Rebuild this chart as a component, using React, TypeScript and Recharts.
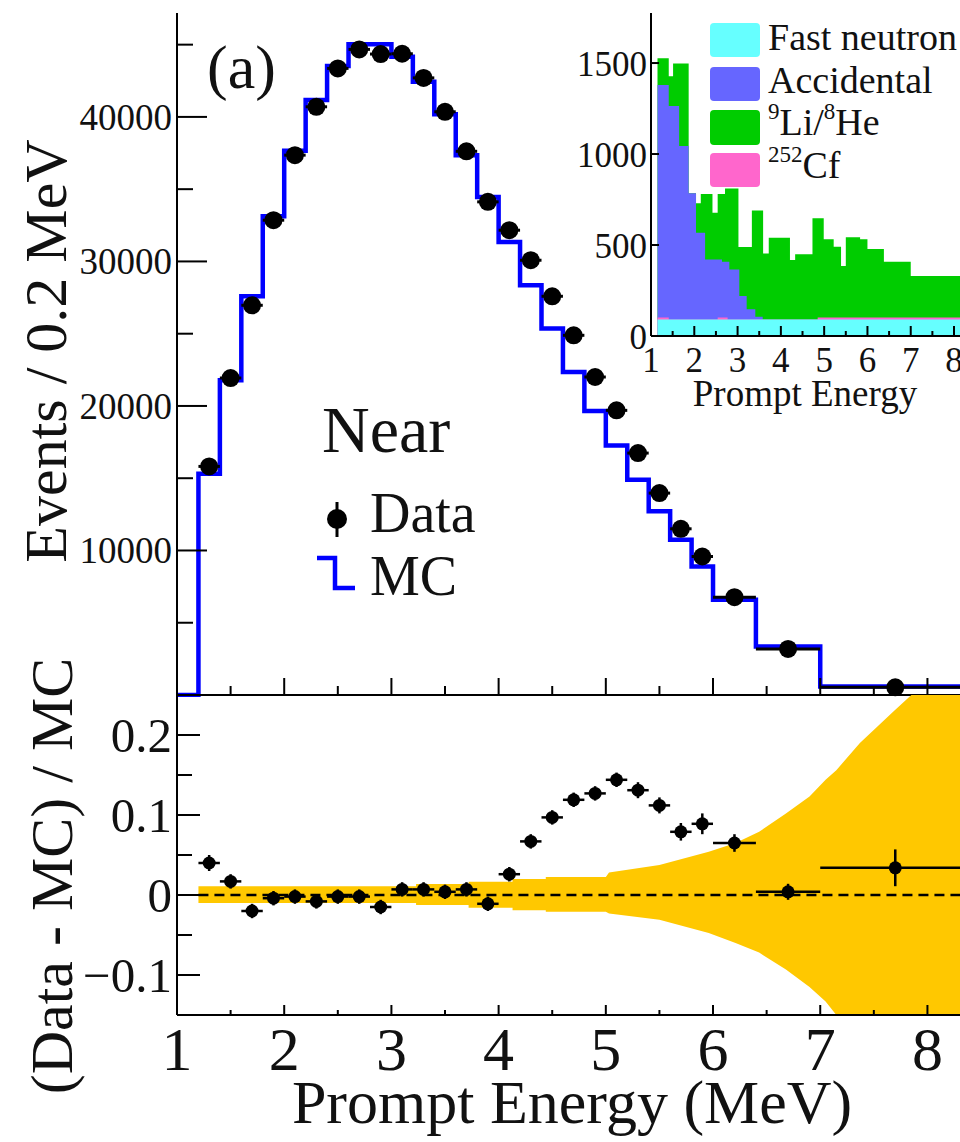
import React from 'react';
import { ComposedChart, Line, Scatter, Area, XAxis, YAxis, ErrorBar } from 'recharts';

const SERIF = '"Liberation Serif", "Times New Roman", Times, serif';

// ---------- Main panel: data points ----------
const binCenters = [1.3, 1.5, 1.7, 1.9, 2.1, 2.3, 2.5, 2.7, 2.9, 3.1, 3.3, 3.5, 3.7, 3.9, 4.1, 4.3, 4.5, 4.7, 4.9, 5.1, 5.3, 5.5, 5.7, 5.9, 6.2, 6.7, 7.7];
const binHalfLow = [0.1, 0.1, 0.1, 0.1, 0.1, 0.1, 0.1, 0.1, 0.1, 0.1, 0.1, 0.1, 0.1, 0.1, 0.1, 0.1, 0.1, 0.1, 0.1, 0.1, 0.1, 0.1, 0.1, 0.1, 0.2, 0.3, 0.7];
const binHalfHigh = [0.1, 0.1, 0.1, 0.1, 0.1, 0.1, 0.1, 0.1, 0.1, 0.1, 0.1, 0.1, 0.1, 0.1, 0.1, 0.1, 0.1, 0.1, 0.1, 0.1, 0.1, 0.1, 0.1, 0.1, 0.2, 0.3, 0.7];
const dataEvents = [15817, 21933, 26966, 32853, 37355, 40700, 43357, 44673, 44349, 44370, 42700, 40355, 37620, 34122, 32161, 30083, 27590, 24889, 22003, 19695, 16740, 13970, 11500, 9584, 6766, 3190, 533];

// ---------- Main panel: MC histogram (bin left edges) ----------
const mcEdges = [1.0, 1.2, 1.4, 1.6, 1.8, 2.0, 2.2, 2.4, 2.6, 2.8, 3.0, 3.2, 3.4, 3.6, 3.8, 4.0, 4.2, 4.4, 4.6, 4.8, 5.0, 5.2, 5.4, 5.6, 5.8, 6.0, 6.4, 7.0, 8.425];
const mcEvents = [0, 15312, 21773, 27590, 33130, 37654, 41163, 43518, 45020, 45020, 44163, 42430, 40180, 37355, 34467, 31350, 28352, 25353, 22350, 19650, 17270, 14895, 12720, 10740, 8892, 6586, 3352, 582, 582];

// ---------- Ratio panel ----------
const ratioValues = [0.040, 0.017, -0.020, -0.004, -0.002, -0.008, -0.002, -0.002, -0.015, 0.007, 0.007, 0.004, 0.007, -0.011, 0.026, 0.067, 0.097, 0.119, 0.127, 0.144, 0.131, 0.112, 0.079, 0.089, 0.065, 0.004, 0.034];
const ratioErrors = [0.010, 0.009, 0.009, 0.009, 0.009, 0.009, 0.009, 0.009, 0.009, 0.009, 0.009, 0.009, 0.009, 0.009, 0.009, 0.009, 0.009, 0.009, 0.009, 0.009, 0.010, 0.010, 0.011, 0.013, 0.011, 0.010, 0.023];

// systematic uncertainty band
const bandX = [1.2, 3.23, 3.23, 3.72, 3.72, 4.13, 4.13, 4.44, 4.44, 5.0, 5.03, 5.5, 5.96, 6.21, 6.43, 6.68, 6.9, 7.05, 7.15, 7.37, 7.68, 7.85, 8.425];
const bandLow = [-0.010, -0.010, -0.0125, -0.0125, -0.016, -0.016, -0.019, -0.019, -0.021, -0.021, -0.023, -0.031, -0.0475, -0.060, -0.072, -0.093, -0.115, -0.133, -0.15, -0.15, -0.15, -0.15, -0.15];
const bandHigh = [0.011, 0.011, 0.0138, 0.0138, 0.0166, 0.0166, 0.020, 0.020, 0.0225, 0.0225, 0.028, 0.0375, 0.054, 0.065, 0.079, 0.102, 0.123, 0.144, 0.156, 0.19, 0.229, 0.25, 0.25];

const zeroLineX = [1.2, 8.425];
const zeroLineY = [0, 0];

// ---------- Inset: stacked background (cumulative tops, left edges) ----------
const liHeEdges = [1.15, 1.41, 1.51, 1.87, 2.04, 2.15, 2.42, 2.54, 2.71, 3.02, 3.33, 3.59, 3.72, 4.21, 4.33, 4.73, 4.99, 5.22, 5.39, 5.50, 5.83, 6.00, 6.38, 7.00, 8.6];
const liHeTop = [1526, 1428, 1498, 784, 729, 780, 677, 780, 811, 489, 689, 454, 540, 418, 449, 647, 531, 491, 385, 542, 531, 478, 408, 330, 330];
const accEdges = [1.15, 1.41, 1.65, 1.87, 2.04, 2.25, 2.64, 2.81, 3.04, 3.21, 3.41, 3.58, 8.6];
const accTop = [1379, 1264, 1044, 784, 568, 421, 408, 366, 220, 147, 106, 0, 0];
const cfEdges = [1.15, 1.41, 2.54, 2.77, 4.85, 8.6];
const cfTop = [101, 90, 101, 90, 101, 101];
const fnEdges = [1.15, 8.6];
const fnTop = [90, 90];

const insetLegendLabels = ['Fast neutron', 'Accidental', 'Li/He', 'Cf'];
const insetColors = ['#66ffff', '#6666ff', '#00cc00', '#ff66cc'];

// ---------- Ticks ----------
const xMajor = [1, 2, 3, 4, 5, 6, 7, 8];
const xMajorLabels = ['1', '2', '3', '4', '5', '6', '7', '8'];
const xMinor = [1.5, 2.5, 3.5, 4.5, 5.5, 6.5, 7.5];
const mainYMajor = [10000, 20000, 30000, 40000];
const mainYLabels = ['10000', '20000', '30000', '40000'];
const mainYMinor = [5000, 15000, 25000, 35000, 45000];
const ratioYMajor = [-0.1, 0, 0.1, 0.2];
const ratioYLabels = ['\u22120.1', '0', '0.1', '0.2'];
const ratioYMinor = [-0.05, 0.05, 0.15];
const insetYMajor = [0, 500, 1000, 1500];
const insetYLabels = ['0', '500', '1000', '1500'];
const insetXMinor = [1.5, 2.5, 3.5, 4.5, 5.5, 6.5, 7.5, 8.5];

// ---------- Derived tables ----------
const mainPoints = binCenters.map((x, i) => ({ x, y: dataEvents[i], xe: [binHalfLow[i], binHalfHigh[i]] }));
const mcLine = mcEdges.map((x, i) => ({ x, y: mcEvents[i] }));
const ratioPoints = binCenters.map((x, i) => ({ x, y: ratioValues[i], xe: [binHalfLow[i], binHalfHigh[i]], ye: ratioErrors[i] }));
const bandData = bandX.map((x, i) => ({ x, band: [bandLow[i], bandHigh[i]] }));
const zeroLine = zeroLineX.map((x, i) => ({ x, y: zeroLineY[i] }));
const toStep = (edges: number[], tops: number[]) => edges.map((x, i) => ({ x, y: tops[i] }));

type TickOpts = {
  majors: number[];
  labels?: string[];
  majorLen: number;
  minorLen: number;
  dir: 'up' | 'right' | 'left';
  fontSize?: number;
  gap?: number;
  dy?: number;
};

const makeTick = (o: TickOpts) => (props: any) => {
  const { x, y, payload } = props;
  const v = Number(payload.value);
  const idx = o.majors.findIndex((m) => Math.abs(m - v) < 1e-9);
  const major = idx >= 0;
  const len = major ? o.majorLen : o.minorLen;
  let x2 = x;
  let y2 = y;
  if (o.dir === 'up') y2 = y - len;
  else if (o.dir === 'right') x2 = x + len;
  else x2 = x - len;
  const label = major && o.labels ? o.labels[idx] : null;
  return (
    <g>
      <line x1={x} y1={y} x2={x2} y2={y2} stroke="#000" strokeWidth={2} />
      {label !== null &&
        (o.dir === 'up' ? (
          <text x={x} y={y + (o.dy || 0)} textAnchor="middle" fontFamily={SERIF} fontSize={o.fontSize} fill="#111">
            {label}
          </text>
        ) : (
          <text x={x - (o.gap || 0)} y={y + (o.dy || 0)} textAnchor="end" fontFamily={SERIF} fontSize={o.fontSize} fill="#111">
            {label}
          </text>
        ))}
    </g>
  );
};

const mainXTick = makeTick({ majors: xMajor, majorLen: 17, minorLen: 9, dir: 'up' });
const ratioXTick = makeTick({ majors: xMajor, labels: xMajorLabels, majorLen: 10, minorLen: 5, dir: 'up', fontSize: 62, dy: 55 });
const mainYTick = makeTick({ majors: mainYMajor, labels: mainYLabels, majorLen: 30, minorLen: 16, dir: 'right', fontSize: 37, gap: 5, dy: 13 });
const ratioYTick = makeTick({ majors: ratioYMajor, labels: ratioYLabels, majorLen: 23, minorLen: 15, dir: 'right', fontSize: 49, gap: 5, dy: 17 });
const ratioYRightTick = makeTick({ majors: ratioYMajor, majorLen: 23, minorLen: 15, dir: 'left' });
const insetYTick = makeTick({ majors: insetYMajor, labels: insetYLabels, majorLen: 8, minorLen: 4, dir: 'right', fontSize: 35, gap: 4, dy: 13 });
const insetXTick = makeTick({ majors: xMajor, labels: xMajorLabels, majorLen: 10, minorLen: 5, dir: 'up', fontSize: 35, dy: 36 });

const axisLine = { stroke: '#000', strokeWidth: 2 };
const X_DOMAIN: [number, number] = [1, 8.425];

const mainDot = (p: any) => <circle cx={p.cx} cy={p.cy} r={9} fill="#000" />;
const ratioDot = (p: any) => <circle cx={p.cx} cy={p.cy} r={6.5} fill="#000" />;

export default function App() {
  return (
    <div style={{ position: 'absolute', left: 0, top: 0, width: 960, height: 1142, overflow: 'hidden', background: '#fff' }}>
      {/* Main panel */}
      <div style={{ position: 'absolute', left: 0, top: 0 }}>
        <ComposedChart width={980} height={697} margin={{ top: 13, right: 7, bottom: 0, left: 0 }}>
          <Line data={mcLine} dataKey="y" type="stepAfter" stroke="#0000ff" strokeWidth={4.5} dot={false} activeDot={false} isAnimationActive={false} />
          <Scatter data={mainPoints} dataKey="y" shape={mainDot} isAnimationActive={false}>
            <ErrorBar dataKey="xe" direction="x" width={0} stroke="#000" strokeWidth={3} isAnimationActive={false} />
          </Scatter>
          <XAxis dataKey="x" type="number" domain={X_DOMAIN} ticks={[...xMajor, ...xMinor]} interval={0} tickSize={0} tickMargin={0} tickLine={false} tick={mainXTick} axisLine={axisLine} height={2} />
          <XAxis xAxisId="top" orientation="top" type="number" domain={X_DOMAIN} tick={false} tickLine={false} axisLine={axisLine} height={0} />
          <YAxis type="number" domain={[0, 47190]} ticks={[...mainYMajor, ...mainYMinor]} interval={0} tickSize={0} tickMargin={0} tickLine={false} tick={mainYTick} axisLine={axisLine} width={177} />
        </ComposedChart>
      </div>

      {/* Ratio panel */}
      <div style={{ position: 'absolute', left: 0, top: 695 }}>
        <ComposedChart width={980} height={447} margin={{ top: 0, right: 0, bottom: 0, left: 0 }}>
          <Area data={bandData} dataKey="band" type="linear" stroke="none" fill="#ffc800" fillOpacity={1} isAnimationActive={false} />
          <Line data={zeroLine} dataKey="y" type="linear" stroke="#000" strokeWidth={2.5} strokeDasharray="10 6" dot={false} activeDot={false} isAnimationActive={false} />
          <Scatter data={ratioPoints} dataKey="y" shape={ratioDot} isAnimationActive={false}>
            <ErrorBar dataKey="xe" direction="x" width={0} stroke="#000" strokeWidth={2.5} isAnimationActive={false} />
            <ErrorBar dataKey="ye" direction="y" width={0} stroke="#000" strokeWidth={2.5} isAnimationActive={false} />
          </Scatter>
          <XAxis dataKey="x" type="number" domain={X_DOMAIN} ticks={[...xMajor, ...xMinor]} interval={0} tickSize={0} tickMargin={0} tickLine={false} tick={ratioXTick} axisLine={axisLine} height={127} />
          <YAxis type="number" domain={[-0.15, 0.25]} ticks={[...ratioYMajor, ...ratioYMinor]} interval={0} tickSize={0} tickMargin={0} tickLine={false} tick={ratioYTick} axisLine={axisLine} width={177} />
          <YAxis yAxisId="r" orientation="right" type="number" domain={[-0.15, 0.25]} ticks={[...ratioYMajor, ...ratioYMinor]} interval={0} tickSize={0} tickMargin={0} tickLine={false} tick={ratioYRightTick} axisLine={axisLine} width={7} />
        </ComposedChart>
      </div>

      {/* Inset */}
      <div style={{ position: 'absolute', left: 560, top: 0 }}>
        <ComposedChart width={420} height={420} margin={{ top: 13, right: 0, bottom: 0, left: 0 }}>
          <Area data={toStep(liHeEdges, liHeTop)} dataKey="y" type="stepAfter" stroke="none" fill={insetColors[2]} fillOpacity={1} isAnimationActive={false} />
          <Area data={toStep(accEdges, accTop)} dataKey="y" type="stepAfter" stroke="none" fill={insetColors[1]} fillOpacity={1} isAnimationActive={false} />
          <Area data={toStep(cfEdges, cfTop)} dataKey="y" type="stepAfter" stroke="none" fill={insetColors[3]} fillOpacity={1} isAnimationActive={false} />
          <Area data={toStep(fnEdges, fnTop)} dataKey="y" type="stepAfter" stroke="none" fill={insetColors[0]} fillOpacity={1} isAnimationActive={false} />
          <XAxis dataKey="x" type="number" domain={[1, 8.6]} ticks={[...xMajor, ...insetXMinor]} interval={0} tickSize={0} tickMargin={0} tickLine={false} tick={insetXTick} axisLine={axisLine} height={84} />
          <YAxis type="number" domain={[0, 1775]} ticks={insetYMajor} interval={0} tickSize={0} tickMargin={0} tickLine={false} tick={insetYTick} axisLine={axisLine} width={91} />
        </ComposedChart>
      </div>

      {/* Text & legends */}
      <svg width={960} height={1142} style={{ position: 'absolute', left: 0, top: 0, pointerEvents: 'none' }} fontFamily={SERIF}>
        <text x={207} y={88} fontSize={62} fill="#111">(a)</text>
        <text x={322} y={452} fontSize={66} fill="#111">Near</text>
        <line x1={337} y1={502} x2={337} y2={537} stroke="#000" strokeWidth={3} />
        <circle cx={337} cy={519} r={10} fill="#000" />
        <text x={370} y={532} fontSize={56} fill="#111">Data</text>
        <polyline points="317,558 335,558 335,588 355,588" fill="none" stroke="#0000ff" strokeWidth={4.5} />
        <text x={370} y={595} fontSize={56} fill="#111">MC</text>

        <text transform="translate(66,351) rotate(-90)" textAnchor="middle" fontSize={60} fill="#111">Events / 0.2 MeV</text>
        <text transform="translate(72,876) rotate(-90)" textAnchor="middle" fontSize={60} fill="#111">(Data - MC) / MC</text>
        <text x={572} y={1123} textAnchor="middle" fontSize={62} fill="#111">Prompt Energy (MeV)</text>

        <text x={805} y={406} textAnchor="middle" fontSize={37} fill="#111">Prompt Energy</text>

        {/* inset legend */}
        <rect x={710} y={23} width={50} height={34} rx={4} fill={insetColors[0]} />
        <rect x={710} y={67} width={50} height={34} rx={4} fill={insetColors[1]} />
        <rect x={710} y={110} width={50} height={35} rx={4} fill={insetColors[2]} />
        <rect x={710} y={153} width={50} height={34} rx={4} fill={insetColors[3]} />
        <text x={768} y={50} fontSize={38} fill="#111">{insetLegendLabels[0]}</text>
        <text x={768} y={93} fontSize={38} fill="#111">{insetLegendLabels[1]}</text>
        <text x={768} y={135} fontSize={38} fill="#111">
          <tspan fontSize={23} dy={-16}>9</tspan>
          <tspan dy={16}>Li/</tspan>
          <tspan fontSize={23} dy={-16}>8</tspan>
          <tspan dy={16}>He</tspan>
        </text>
        <text x={768} y={178} fontSize={38} fill="#111">
          <tspan fontSize={23} dy={-16}>252</tspan>
          <tspan dy={16}>Cf</tspan>
        </text>
      </svg>
    </div>
  );
}
